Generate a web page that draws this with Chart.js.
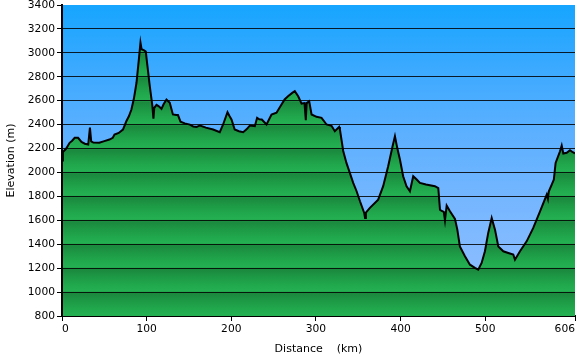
<!DOCTYPE html>
<html><head><meta charset="utf-8">
<script src="https://cdn.jsdelivr.net/npm/chart.js@4/dist/chart.umd.min.js"></script>
<style>html,body{margin:0;padding:0;background:#fff}#c{display:block}</style>
</head><body>
<canvas id="c" width="580" height="360"></canvas>
<script>
const distances = [0,1,5,9,12,15,19,23,27,31,33,34.5,37,44,50,56,60,62,67,72,76,79,82,85,88,91,92.7,94,97,99,100.5,103.7,106.8,108,109,111.6,114,117.5,120,123.4,127.3,131,135,137,140,145,151,155,159,163,170,178.5,186.4,190.3,195.5,198,200.2,204,209,214,218,222,227.8,230.5,233,236,241.6,247.5,253.4,259.3,263,267,272,275,279,283,286.5,288,289,292,294.8,300.7,306.6,312.5,318.4,322.3,327.4,328.3,332.2,336,340,344,348,352,357,358,359,363.7,373.5,379.4,385.3,390.5,393.3,396,399.2,403,407,411,414.9,419,422.8,430,440.5,444.5,446.5,448,451,452.4,454.4,458.3,464.2,467,470,476,481.9,487.8,491.7,495.7,499.6,503.5,507.6,511.5,515.4,521.3,527.2,533.1,535.1,541,548.9,556.7,564.7,572.6,574,575,578.5,581,583.1,588.3,590.3,592.2,596.2,600.1,603.3,606];
const elevations = [2100,2170,2200,2248,2265,2290,2290,2255,2240,2233,2375,2260,2250,2248,2262,2275,2290,2317,2330,2359,2428,2470,2526,2620,2750,2960,3085,3030,3020,3010,2917,2721,2554,2450,2540,2565,2555,2532,2570,2610,2582,2485,2480,2480,2425,2410,2400,2385,2381,2393,2375,2359,2337,2401,2504,2470,2443,2359,2345,2337,2360,2393,2387,2457,2445,2443,2401,2485,2499,2568,2610,2637,2665,2680,2637,2576,2580,2437,2580,2596,2485,2465,2457,2401,2390,2345,2381,2359,2180,2080,1997,1913,1843,1759,1662,1620,1665,1704,1773,1885,2052,2219,2303,2206,2108,1968,1885,1843,1968,1941,1913,1900,1885,1870,1689,1680,1670,1600,1723,1675,1612,1522,1382,1299,1229,1202,1187,1243,1341,1495,1620,1522,1382,1341,1327,1313,1271,1341,1424,1536,1675,1815,1780,1840,1899,1941,2080,2177,2225,2158,2164,2186,2169,2160];
const xTickValues = [0,100,200,300,400,500,606];
const yMin = 800, yMax = 3400, yStep = 200;
const xTitle = 'Distance    (km)';
const yTitle = 'Elevation (m)';

Chart.defaults.font.family = "'DejaVu Sans', sans-serif";
Chart.defaults.color = '#000';

const points = distances.map((d, i) => ({x: d, y: elevations[i]}));

function greenFill(ctx) {
  const chart = ctx.chart;
  const area = chart.chartArea;
  if (!area) return '#1c9a48';
  const ys = chart.scales.y;
  const g = chart.ctx.createLinearGradient(0, area.top, 0, area.bottom);
  const h = area.bottom - area.top;
  for (let v = yMax; v > yMin; v -= yStep) {
    const t0 = (ys.getPixelForValue(v) - area.top) / h;
    const t1 = (ys.getPixelForValue(v - yStep) - area.top) / h;
    const d = t1 - t0;
    g.addColorStop(Math.min(1, Math.max(0, t0 + 0.005)), 'rgb(27,136,62)');
    g.addColorStop(Math.min(1, Math.max(0, t0 + d * 0.35)), 'rgb(29,152,68)');
    g.addColorStop(Math.min(1, Math.max(0, t0 + d * 0.7)), 'rgb(33,168,77)');
    g.addColorStop(Math.min(1, Math.max(0, t1 - 0.004)), 'rgb(36,176,82)');
  }
  return g;
}

const bgPlugin = {
  id: 'bg',
  beforeDatasetsDraw(chart) {
    const {ctx, chartArea: a} = chart;
    const g = ctx.createLinearGradient(0, a.top, 0, a.bottom);
    g.addColorStop(0, 'rgb(22,165,255)');
    g.addColorStop(0.15, 'rgb(50,168,255)');
    g.addColorStop(0.38, 'rgb(88,175,255)');
    g.addColorStop(0.62, 'rgb(116,182,255)');
    g.addColorStop(0.85, 'rgb(138,188,255)');
    g.addColorStop(1, 'rgb(148,192,255)');
    ctx.save();
    ctx.fillStyle = g;
    ctx.fillRect(a.left, a.top, a.right - a.left, a.bottom - a.top);
    ctx.restore();
  }
};

new Chart(document.getElementById('c'), {
  type: 'line',
  data: {
    datasets: [{
      data: points,
      borderColor: '#000',
      borderWidth: 2,
      pointRadius: 0,
      tension: 0,
      fill: 'start',
      backgroundColor: greenFill
    }]
  },
  options: {
    responsive: false,
    animation: false,
    devicePixelRatio: 1,
    layout: {padding: {top: 5, right: 5, left: 0, bottom: 0}},
    plugins: {legend: {display: false}, tooltip: {enabled: false}},
    scales: {
      x: {
        type: 'linear',
        min: 0, max: 606,
        afterBuildTicks(s) { s.ticks = xTickValues.map(v => ({value: v})); },
        afterFit(s) { s.height = 44; s.paddingLeft = 0; s.paddingRight = 0; },
        ticks: {font: {size: 10.7}, padding: 2, maxRotation: 0, autoSkip: false, align: 'inner', color: '#000', callback: v => String(v)},
        grid: {drawOnChartArea: false, drawTicks: true, tickLength: 5, tickColor: '#000', tickWidth: 1},
        border: {color: '#000', width: 2},
        title: {display: true, text: xTitle, font: {size: 11}, padding: {top: 2, bottom: 4}, color: '#000'}
      },
      y: {
        min: yMin, max: yMax,
        afterFit(s) { s.width = 62; s.paddingTop = 0; s.paddingBottom = 0; },
        ticks: {stepSize: yStep, font: {size: 10.7}, padding: 2, color: '#000', callback: v => String(v)},
        grid: {
          z: 1,
          color: c => (c.tick && (c.tick.value === yMax || c.tick.value === yMin)) ? 'rgba(0,0,0,0)' : 'rgba(0,0,0,0.85)',
          lineWidth: 1,
          tickLength: 5,
          tickColor: '#000'
        },
        border: {color: '#000', width: 2, z: 2},
        title: {display: true, text: yTitle, font: {size: 11}, padding: {top: 5, bottom: 2}, color: '#000'}
      }
    }
  },
  plugins: [bgPlugin]
});
</script>
</body></html>
